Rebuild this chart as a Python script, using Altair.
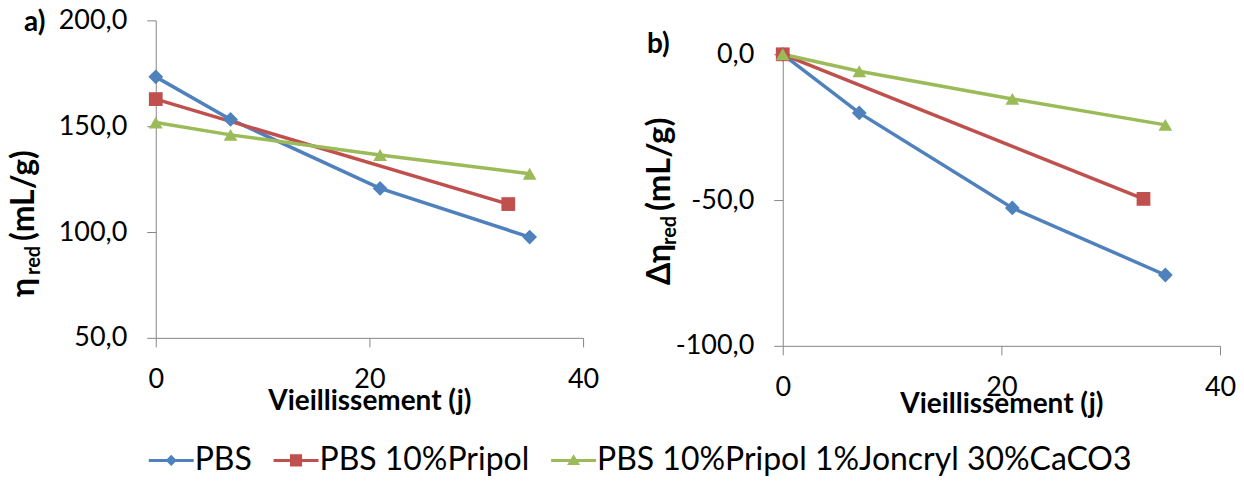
import altair as alt
import pandas as pd

# ---- data ----
series_names = ["PBS", "PBS 10%Pripol", "PBS 10%Pripol 1%Joncryl 30%CaCO3"]
jours_pbs = [0, 7, 21, 35]
jours_pripol = [0, 33]
jours_caco3 = [0, 7, 21, 35]
eta_pbs = [173.3, 153.2, 120.6, 97.6]
eta_pripol = [162.8, 113.2]
eta_caco3 = [151.7, 145.9, 136.4, 127.5]
delta_pbs = [0.0, -20.1, -52.7, -75.7]
delta_pripol = [0.0, -49.6]
delta_caco3 = [0.0, -5.8, -15.3, -24.2]

x_ticks = [0, 20, 40]
y_ticks_a = [50, 100, 150, 200]
y_ticks_b = [-100, -50, 0]

colors = ["#4F81BD", "#C0504D", "#9BBB59"]
shapes = ["diamond", "square", "triangle-up"]
marker_sizes = [220, 190, 190]
GRAY = "#868686"
FONT = "Lato"

rows = []
for name, jj, ee, dd in zip(series_names,
                            [jours_pbs, jours_pripol, jours_caco3],
                            [eta_pbs, eta_pripol, eta_caco3],
                            [delta_pbs, delta_pripol, delta_caco3]):
    for j, e, d in zip(jj, ee, dd):
        rows.append({"series": name, "jours": j, "eta": e, "delta": d})
df = pd.DataFrame(rows)

# legend symbols: a short line with the marker in its middle (filled paths)
bar = "M-1,-0.067H1V0.067H-1Z"
legend_paths = [
    bar + "M0,-0.25L0.25,0L0,0.25L-0.25,0Z",
    bar + "M-0.27,-0.27H0.27V0.27H-0.27Z",
    bar + "M0,-0.27L0.29,0.21H-0.29Z",
]

legend = alt.Legend(
    title=None, orient="none", legendX=-7, legendY=418, direction="horizontal",
    symbolSize=2025, symbolStrokeWidth=0, symbolOpacity=1, labelFont=FONT, labelFontSize=32,
    labelColor="black", labelOffset=1, columnPadding=21, labelLimit=0, padding=0,
)

color_scale = alt.Scale(domain=series_names, range=colors)
color_plain = alt.Color("series:N", scale=color_scale, legend=None)
color_leg = alt.Color("series:N", scale=color_scale, legend=legend)
shape_leg = alt.Shape("series:N", scale=alt.Scale(domain=series_names, range=legend_paths), legend=legend)

label_expr = "replace(replace(format(datum.value, '.1f'), '.', ','), '\u2212', '-')"


def x_axis(title_pad):
    return alt.Axis(values=x_ticks, format="d", title="Vieillissement (j)", grid=False,
                    domainColor=GRAY, tickColor=GRAY, tickSize=9, labelPadding=20,
                    labelFont=FONT, labelFontSize=27, labelColor="black", labelFlush=False,
                    labelOverlap=False, titleFont=FONT, titleFontSize=28, titleFontWeight="bold",
                    titleColor="black", titlePadding=title_pad)


def y_axis(ticks):
    return alt.Axis(values=ticks, labelExpr=label_expr, title=None, grid=False,
                    domainColor=GRAY, tickColor=GRAY, tickSize=9, labelPadding=20,
                    labelFont=FONT, labelFontSize=27, labelColor="black", labelOverlap=False)


def text_piece(text, x, y, size, dx=0, dy=0, angle=0):
    return alt.Chart(alt.Data(values=[{}])).mark_text(
        text=text, font=FONT, fontSize=size, fontWeight="bold", color="black",
        angle=angle, align="left", baseline="alphabetic", dx=dx, dy=dy
    ).encode(x=alt.value(x), y=alt.value(y))


def panel(field, y_domain, ticks, w, h, title_pad, pieces, with_legend):
    base = alt.Chart(df)
    X = alt.X("jours:Q", scale=alt.Scale(domain=[0, 40], nice=False), axis=x_axis(title_pad))
    Y = alt.Y(field + ":Q", scale=alt.Scale(domain=y_domain, nice=False, zero=False), axis=y_axis(ticks))
    layers = []
    if with_legend:
        # invisible points that only carry the legend (line + marker symbols)
        layers.append(base.mark_point(filled=True, opacity=0).encode(
            x=X, y=Y, color=color_leg, shape=shape_leg))
    layers.append(base.mark_line(strokeWidth=3.5).encode(x=X, y=Y, color=color_plain, order="jours:Q"))
    for name, shp, sz in zip(series_names, shapes, marker_sizes):
        layers.append(
            base.transform_filter(alt.datum.series == name)
            .mark_point(filled=True, opacity=1, shape=shp, size=sz)
            .encode(x=X, y=Y, color=color_plain)
        )
    return alt.layer(*layers, *pieces).properties(width=w, height=h)


pieces_a = [
    text_piece("a)", -132, 11, 28),
    text_piece("\u03b7", -122, 277, 32, angle=270),
    text_piece("red", -122, 277, 20, dx=22, dy=6, angle=270),
    text_piece("(mL/g)", -122, 277, 32, dx=56, angle=270),
]
pieces_b = [
    text_piece("b)", -136, -1, 28),
    text_piece("\u0394\u03b7", -113, 231, 32, angle=270),
    text_piece("red", -113, 231, 20, dx=40, dy=6, angle=270),
    text_piece("(mL/g)", -113, 231, 33, dx=74, angle=270),
]

panel_a = panel("eta", [50, 200], y_ticks_a, 428, 318, -5, pieces_a, True)
panel_b = panel("delta", [-100, 0], y_ticks_b, 438, 292, -10, pieces_b, False)

spacer = alt.Chart(alt.Data(values=[{}])).mark_point(opacity=0).encode(
    x=alt.value(0), y=alt.value(0)).properties(width=438, height=14)

chart = alt.hconcat(
    panel_a,
    alt.vconcat(spacer, panel_b, spacing=20, bounds="flush"),
    spacing=200, bounds="flush",
).properties(
    padding={"left": 0, "top": -2, "right": 0, "bottom": 0},
).configure_view(stroke=None)

chart.save("out.html", embed_options={"renderer": "svg", "actions": False})
